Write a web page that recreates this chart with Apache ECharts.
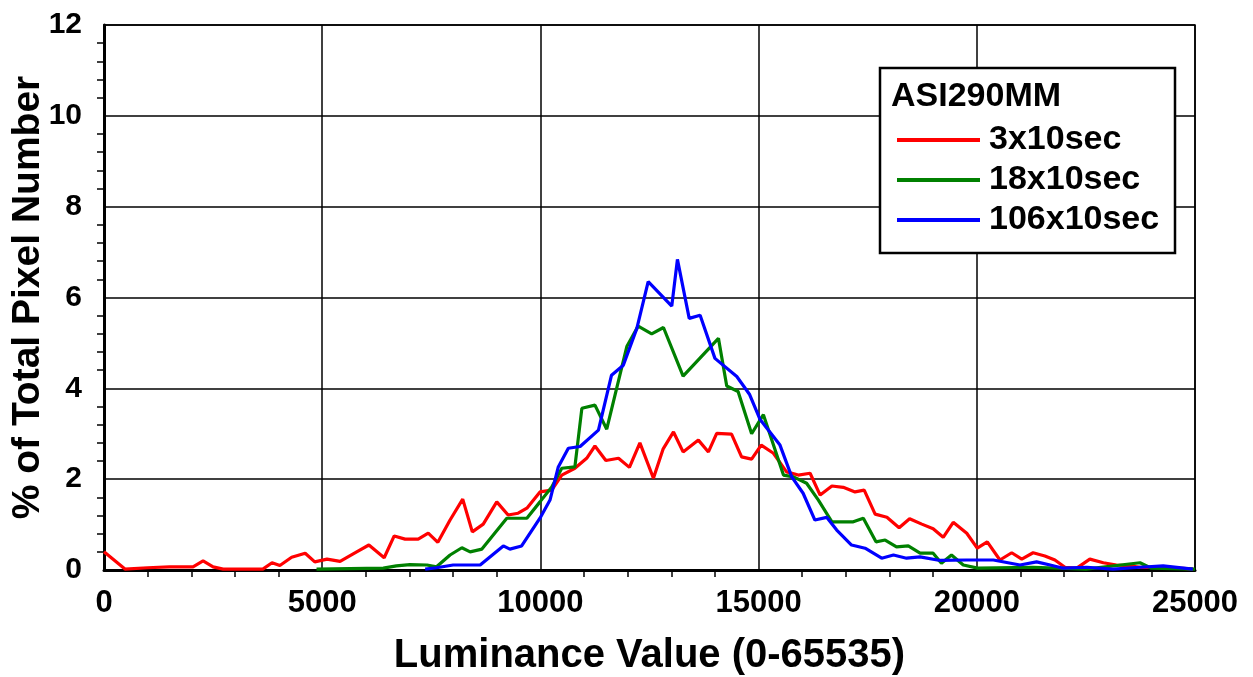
<!DOCTYPE html>
<html>
<head>
<meta charset="utf-8">
<script src="https://cdn.jsdelivr.net/npm/echarts@6/dist/echarts.min.js"></script>
<style>html,body{margin:0;padding:0;background:#fff}#c{width:1253px;height:677px}</style>
</head>
<body>
<div id="c"></div>
<script>
const xTicks = [0, 5000, 10000, 15000, 20000, 25000];
const yTicks = [0, 2, 4, 6, 8, 10, 12];
const seriesNames = ['3x10sec', '18x10sec', '106x10sec'];
const legendTitle = 'ASI290MM';

const redX = [0,480,1000,1500,2040,2270,2500,2730,3640,3850,4030,4300,4610,4830,5110,5410,5790,6070,6420,6650,6900,7200,7430,7650,7930,8220,8440,8690,9000,9260,9490,9700,9990,10260,10490,10790,11060,11250,11500,11790,12040,12280,12590,12810,13050,13270,13620,13850,14040,14380,14610,14840,15060,15340,15640,15910,16180,16410,16680,16940,17210,17420,17670,17940,18220,18460,18740,19000,19230,19460,19770,20010,20240,20530,20800,21030,21290,21560,21790,22020,22290,22590,22900,23200,23510,23740,24040,24350,24650,24960];
const redY = [0.4,0.02,0.05,0.07,0.07,0.2,0.07,0.02,0.02,0.16,0.1,0.28,0.37,0.18,0.24,0.19,0.4,0.55,0.27,0.75,0.68,0.68,0.81,0.61,1.1,1.56,0.84,1.01,1.5,1.21,1.25,1.37,1.72,1.76,2.09,2.24,2.46,2.73,2.41,2.46,2.26,2.8,2.02,2.66,3.04,2.6,2.86,2.6,3.01,2.99,2.49,2.44,2.75,2.57,2.16,2.09,2.13,1.65,1.85,1.82,1.72,1.76,1.23,1.16,0.93,1.13,1.01,0.91,0.72,1.05,0.81,0.48,0.62,0.22,0.38,0.24,0.38,0.31,0.22,0.06,0.04,0.24,0.16,0.11,0.09,0.06,0.06,0.06,0.04,0.02];

const greenX = [4870,6400,6700,7010,7400,7620,7930,8200,8390,8660,9230,9690,9990,10260,10490,10790,10950,11250,11520,11980,12240,12550,12820,13270,14080,14270,14530,14840,15110,15570,15800,16100,16370,16680,17170,17400,17690,17900,18160,18430,18700,19000,19190,19420,19690,20020,21290,22500,23740,24000,25000];
const greenY = [0.02,0.04,0.09,0.12,0.11,0.07,0.33,0.49,0.4,0.46,1.14,1.14,1.5,1.83,2.24,2.27,3.56,3.63,3.1,4.92,5.37,5.2,5.34,4.27,5.1,4.05,3.93,3.0,3.42,2.09,2.05,1.91,1.54,1.06,1.06,1.14,0.62,0.66,0.51,0.53,0.37,0.37,0.15,0.33,0.11,0.04,0.06,0.02,0.16,0.04,0.02];

const blueX = [7360,7620,8000,8620,9150,9300,9570,9990,10220,10410,10640,10910,11330,11630,11900,12210,12470,13010,13140,13410,13660,14000,14500,14790,15030,15490,15760,16020,16290,16560,16790,17130,17440,17820,18090,18390,18700,19160,19770,20380,20990,21370,21680,21980,22520,23120,23740,24270,24950];
const blueY = [0.02,0.05,0.11,0.11,0.53,0.46,0.53,1.14,1.54,2.27,2.68,2.72,3.08,4.29,4.51,5.32,6.35,5.81,6.84,5.54,5.61,4.66,4.26,3.87,3.32,2.75,2.05,1.69,1.1,1.16,0.88,0.55,0.48,0.26,0.33,0.26,0.29,0.21,0.22,0.22,0.11,0.18,0.11,0.04,0.06,0.02,0.06,0.09,0.02];

const colors = ['#ff0000', '#008000', '#0000ff'];
const zip = (xs, ys) => xs.map((x, i) => [x, ys[i]]);
const FONT = '"Liberation Sans", Arial, sans-serif';

const chart = echarts.init(document.getElementById('c'), null, {renderer: 'canvas'});
const mkSeries = (name, xs, ys, color, z) => ({
  name, type: 'line', data: zip(xs, ys), showSymbol: false, symbol: 'none',
  lineStyle: {color, width: 3.2}, itemStyle: {color}, z, animation: false
});

chart.setOption({
  animation: false,
  backgroundColor: '#fff',
  grid: {left: 104, right: 58, top: 25, bottom: 107, show: true, borderColor: '#000', borderWidth: 1.5, containLabel: false, outerBoundsMode: 'none'},
  xAxis: {
    type: 'value', min: xTicks[0], max: xTicks[xTicks.length - 1], interval: 5000,
    name: 'Luminance Value (0-65535)', nameLocation: 'middle', nameGap: 66, nameMoveOverlap: false,
    nameTextStyle: {fontFamily: FONT, fontWeight: 'bold', fontSize: 40, color: '#000'},
    axisLine: {show: true, lineStyle: {color: '#000', width: 3}},
    axisTick: {show: false},
    minorTick: {show: true, splitNumber: 5, length: 7, lineStyle: {color: '#000', width: 1.5}},
    splitLine: {show: true, lineStyle: {color: '#000', width: 1.5}},
    axisLabel: {fontFamily: FONT, fontWeight: 'bold', fontSize: 31, color: '#000', margin: 18, formatter: v => String(v)}
  },
  yAxis: {
    type: 'value', min: yTicks[0], max: yTicks[yTicks.length - 1], interval: 2,
    name: '% of Total Pixel Number', nameLocation: 'middle', nameGap: 56, nameRotate: 90, nameMoveOverlap: false,
    nameTextStyle: {fontFamily: FONT, fontWeight: 'bold', fontSize: 39, color: '#000'},
    axisLine: {show: true, lineStyle: {color: '#000', width: 3}},
    axisTick: {show: false},
    minorTick: {show: true, splitNumber: 5, length: 7, lineStyle: {color: '#000', width: 1.5}},
    splitLine: {show: true, lineStyle: {color: '#000', width: 1.5}},
    axisLabel: {fontFamily: FONT, fontWeight: 'bold', fontSize: 30, color: '#000', margin: 22, formatter: v => String(v)}
  },
  legend: {
    show: true, orient: 'vertical', left: 892, top: 118, itemWidth: 83, itemHeight: 4, itemGap: 6,
    icon: 'rect', z: 20,
    textStyle: {fontFamily: FONT, fontWeight: 'bold', fontSize: 34, lineHeight: 34, color: '#000', padding: [0, 0, 0, 4]},
    data: seriesNames
  },
  graphic: [
    {type: 'rect', z: 15, shape: {x: 880, y: 68, width: 295, height: 185}, style: {fill: '#fff', stroke: '#000', lineWidth: 2.5}},
    {type: 'text', z: 16, x: 891, y: 97, style: {text: legendTitle, fontFamily: FONT, fontWeight: 'bold', fontSize: 34, fill: '#000', verticalAlign: 'middle'}}
  ],
  series: [
    mkSeries(seriesNames[0], redX, redY, colors[0], 3),
    mkSeries(seriesNames[1], greenX, greenY, colors[1], 4),
    mkSeries(seriesNames[2], blueX, blueY, colors[2], 5)
  ]
});
</script>
</body>
</html>
